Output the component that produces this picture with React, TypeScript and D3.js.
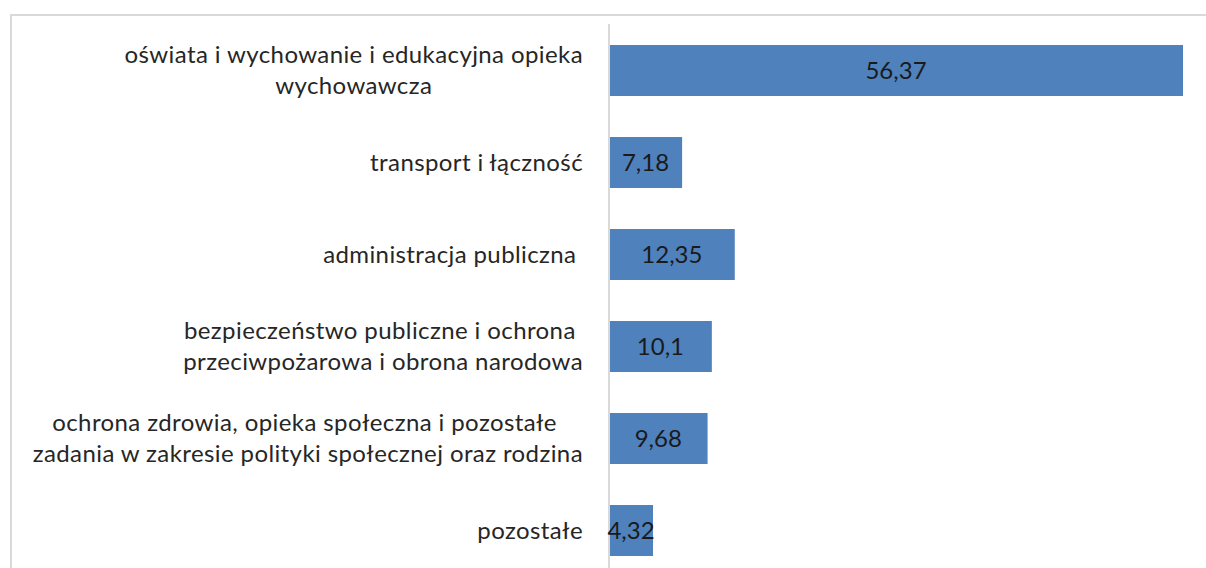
import React, { useEffect, useRef } from "react";
import * as d3 from "d3";

const categories: string[][] = [
  ["oświata i wychowanie i edukacyjna opieka", "wychowawcza"],
  ["transport i łączność"],
  ["administracja publiczna "],
  ["bezpieczeństwo publiczne i ochrona ", "przeciwpożarowa i obrona narodowa"],
  ["ochrona zdrowia, opieka społeczna i pozostałe ", "zadania w zakresie polityki społecznej oraz rodzina"],
  ["pozostałe"],
];
const values: number[] = [56.37, 7.18, 12.35, 10.1, 9.68, 4.32];
const valueLabels: string[] = ["56,37", "7,18", "12,35", "10,1", "9,68", "4,32"];

const W = 1206;
const H = 568;
const FONT = "Lato, 'Open Sans', sans-serif";
const FS = 24;

export default function App() {
  const ref = useRef<SVGSVGElement>(null);

  useEffect(() => {
    document.body.style.margin = "0";
    const svg = d3.select(ref.current);
    svg.selectAll("*").remove();

    const keys = categories.map((c, i) => String(i));
    const x = d3.scaleLinear().domain([0, d3.max(values) as number]).range([609, 1183]);
    const y = d3
      .scaleBand<string>()
      .domain(keys)
      .range([24.5, 576.5])
      .paddingInner(0.446)
      .paddingOuter(0.223);

    // frame
    svg
      .append("rect")
      .attr("x", 11)
      .attr("y", 15)
      .attr("width", 1300)
      .attr("height", 700)
      .attr("fill", "white")
      .attr("stroke", "#d9d9d9")
      .attr("stroke-width", 2);

    // bars
    svg
      .selectAll("rect.bar")
      .data(values)
      .enter()
      .append("rect")
      .attr("class", "bar")
      .attr("x", x(0))
      .attr("y", (_, i) => y(keys[i]) as number)
      .attr("width", (d) => x(d) - x(0))
      .attr("height", y.bandwidth())
      .attr("fill", "#4f81bd");

    // axis line
    svg
      .append("line")
      .attr("x1", 609)
      .attr("x2", 609)
      .attr("y1", 24)
      .attr("y2", H)
      .attr("stroke", "#d9d9d9")
      .attr("stroke-width", 2);

    // value labels
    svg
      .selectAll("text.val")
      .data(values)
      .enter()
      .append("text")
      .attr("class", "val")
      .attr("x", (d) => (x(0) + x(d)) / 2)
      .attr("y", (_, i) => (y(keys[i]) as number) + y.bandwidth() / 2 + 8)
      .attr("text-anchor", "middle")
      .attr("font-family", FONT)
      .attr("font-size", FS)
      .attr("fill", "#1a1a1a")
      .text((_, i) => valueLabels[i]);

    // category labels
    const rightEdge = 583;
    const lineH = 31;
    categories.forEach((lines, i) => {
      const cy = (y(keys[i]) as number) + y.bandwidth() / 2;
      const g = svg.append("g");
      const texts = lines.map((ln, j) =>
        g
          .append("text")
          .attr("y", cy + 8 + (j - (lines.length - 1) / 2) * lineH)
          .attr("font-family", FONT)
          .attr("font-size", FS)
          .attr("letter-spacing", 0.4)
          .attr("fill", "#262626")
          .attr("text-anchor", "middle")
          .style("white-space", "pre")
          .text(ln)
      );
      const widths = texts.map((t) => (t.node() as SVGTextElement).getComputedTextLength());
      const maxW = Math.max(...widths);
      const cx = rightEdge - maxW / 2;
      texts.forEach((t) => t.attr("x", cx));
    });
  }, []);

  return (
    <svg
      ref={ref}
      width={W}
      height={H}
      style={{ position: "absolute", left: 0, top: 0, display: "block" }}
    />
  );
}
